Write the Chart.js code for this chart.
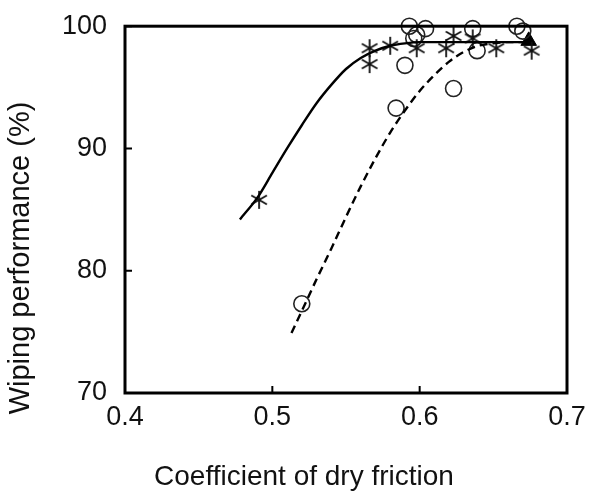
<!DOCTYPE html>
<html>
<head>
<meta charset="utf-8">
<script src="https://cdn.jsdelivr.net/npm/chart.js@4.4.1/dist/chart.umd.min.js"></script>
<style>
  html, body { margin: 0; padding: 0; background: #fff; }
  #wrap { width: 590px; height: 494px; }
</style>
</head>
<body>
<div id="wrap"><canvas id="chart" width="590" height="494"></canvas></div>
<script>
// measured points, asterisk series
var starX = [0.491, 0.566, 0.566, 0.580, 0.598, 0.618, 0.623, 0.636, 0.652, 0.676];
var starY = [85.8, 98.2, 96.9, 98.4, 98.2, 98.2, 99.2, 99.0, 98.2, 98.0];

// measured points, circle series
var circX = [0.520, 0.584, 0.590, 0.593, 0.596, 0.598, 0.604, 0.623, 0.636, 0.639, 0.666, 0.670];
var circY = [77.3, 93.3, 96.8, 100.0, 99.0, 99.3, 99.8, 94.9, 99.8, 98.0, 100.0, 99.6];

// filled triangle
var triX = [0.674];
var triY = [98.8];

// fitted curves
var solidX = [0.478, 0.49, 0.50, 0.51, 0.52, 0.53, 0.54, 0.55, 0.56, 0.57, 0.58, 0.59, 0.60, 0.675];
var solidY = [84.2, 86.0, 88.0, 90.0, 91.9, 93.7, 95.2, 96.5, 97.4, 98.0, 98.4, 98.6, 98.7, 98.7];
var dashX = [0.513, 0.52, 0.53, 0.54, 0.55, 0.56, 0.57, 0.58, 0.59, 0.60, 0.61, 0.62, 0.63, 0.64, 0.65, 0.66, 0.675];
var dashY = [74.9, 76.7, 79.3, 81.8, 84.4, 86.9, 89.2, 91.3, 93.1, 94.7, 96.0, 97.1, 97.9, 98.4, 98.6, 98.7, 98.7];

var xTicks = [0.4, 0.5, 0.6, 0.7];
var yTicks = [70, 80, 90, 100];
var xTitle = "Coefficient of dry friction";
var yTitle = "Wiping performance (%)";

function pts(xs, ys) {
  return xs.map(function (x, i) { return { x: x, y: ys[i] }; });
}

// six-armed asterisk marker
function makeAsterisk(size) {
  var c = document.createElement("canvas");
  c.width = size; c.height = size;
  var g = c.getContext("2d");
  var r = size / 2 - 1;
  g.strokeStyle = "#111";
  g.lineWidth = 1.8;
  g.translate(size / 2, size / 2);
  for (var k = 0; k < 3; k++) {
    var a = Math.PI / 2 + k * Math.PI / 3;
    g.beginPath();
    g.moveTo(Math.cos(a) * r, Math.sin(a) * r);
    g.lineTo(-Math.cos(a) * r, -Math.sin(a) * r);
    g.stroke();
  }
  return c;
}
var asterisk = makeAsterisk(20);

var font = "'Liberation Sans', Arial, sans-serif";

// frame, inward ticks and axis titles
var framePlugin = {
  id: "frame",
  afterDraw: function (chart) {
    var ctx = chart.ctx, a = chart.chartArea;
    var xs = chart.scales.x, ys = chart.scales.y;
    ctx.save();
    ctx.strokeStyle = "#000";
    ctx.lineWidth = 3;
    ctx.strokeRect(a.left, a.top, a.right - a.left, a.bottom - a.top);
    ctx.lineWidth = 2;
    ctx.beginPath();
    xTicks.forEach(function (v) {
      var px = xs.getPixelForValue(v);
      ctx.moveTo(px, a.bottom);
      ctx.lineTo(px, a.bottom - 7);
    });
    yTicks.forEach(function (v) {
      var py = ys.getPixelForValue(v);
      ctx.moveTo(a.left, py);
      ctx.lineTo(a.left + 7, py);
    });
    ctx.stroke();
    ctx.fillStyle = "#111";
    ctx.font = "28px " + font;
    ctx.textAlign = "center";
    ctx.textBaseline = "middle";
    ctx.fillText(xTitle, 304, 477);
    ctx.translate(21, 258);
    ctx.rotate(-Math.PI / 2);
    ctx.font = "29px " + font;
    ctx.fillText(yTitle, 0, 0);
    ctx.restore();
  }
};

new Chart(document.getElementById("chart"), {
  type: "scatter",
  data: {
    datasets: [
      {
        type: "line", data: pts(solidX, solidY), borderColor: "#000",
        borderWidth: 2.4, pointRadius: 0, tension: 0.4, cubicInterpolationMode: "monotone", clip: false
      },
      {
        type: "line", data: pts(dashX, dashY), borderColor: "#000",
        borderWidth: 2.4, borderDash: [8, 5], pointRadius: 0, tension: 0.4, cubicInterpolationMode: "monotone", clip: false
      },
      {
        data: pts(starX, starY), pointStyle: asterisk, pointRadius: 10, clip: false
      },
      {
        data: pts(circX, circY), pointStyle: "circle", pointRadius: 8,
        backgroundColor: "rgba(0,0,0,0)", borderColor: "#222", borderWidth: 1.6, clip: false
      },
      {
        data: pts(triX, triY), pointStyle: "triangle", pointRadius: 9,
        backgroundColor: "#000", borderColor: "#000", borderWidth: 1, clip: false
      }
    ]
  },
  options: {
    responsive: false,
    animation: false,
    events: [],
    layout: { padding: { left: 0, right: 23, top: 17, bottom: 0 } },
    plugins: { legend: { display: false }, tooltip: { enabled: false } },
    scales: {
      x: {
        type: "linear", min: 0.4, max: 0.7,
        afterBuildTicks: function (s) { s.ticks = xTicks.map(function (v) { return { value: v }; }); },
        afterFit: function (s) { s.height = 101; },
        grid: { display: false },
        border: { display: false },
        ticks: { color: "#111", font: { family: font, size: 27 }, padding: 0,
          callback: function (v) { return v.toFixed(1); } }
      },
      y: {
        type: "linear", min: 70, max: 100,
        afterBuildTicks: function (s) { s.ticks = yTicks.map(function (v) { return { value: v }; }); },
        afterFit: function (s) { s.width = 125; },
        grid: { display: false },
        border: { display: false },
        ticks: { color: "#111", font: { family: font, size: 27 }, padding: 10 }
      }
    }
  },
  plugins: [framePlugin]
});
</script>
</body>
</html>
